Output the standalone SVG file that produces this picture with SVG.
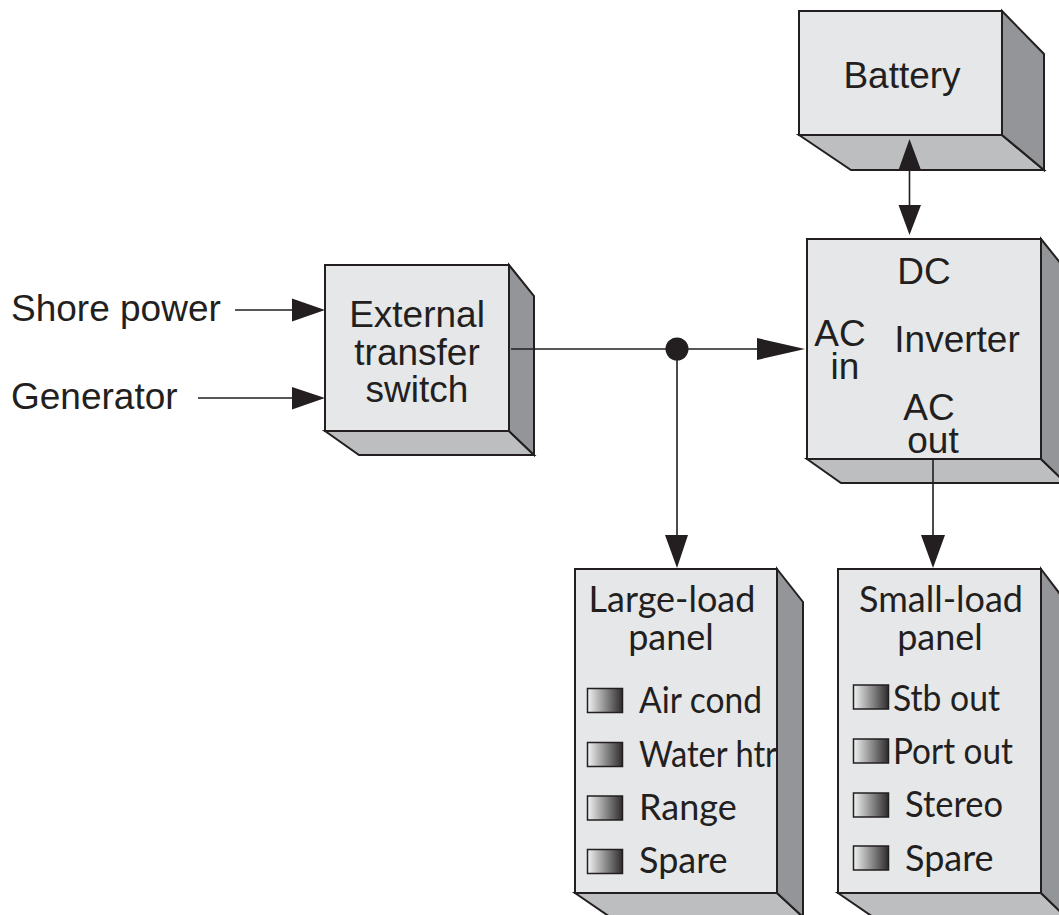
<svg xmlns="http://www.w3.org/2000/svg" width="1059" height="915" viewBox="0 0 1059 915">
<style>
.front{fill:#e6e7e8;stroke:#231f20;stroke-width:2;stroke-linejoin:miter}
.right{fill:#939598;stroke:#231f20;stroke-width:2}
.bottom{fill:#bcbec0;stroke:#231f20;stroke-width:2}
.h{font-family:"Liberation Sans",Arial,sans-serif;font-size:37px;fill:#231f20}
.m{font-family:Lato,"Open Sans",sans-serif;font-size:36px;fill:#231f20}
.sw{fill:url(#g);stroke:#231f20;stroke-width:1.5}
.line{fill:none;stroke:#231f20;stroke-width:1.6}
.head{fill:#231f20}
</style>
<defs>
<linearGradient id="g" x1="0" y1="0" x2="1" y2="0"><stop offset="0" stop-color="#f1f2f2"/><stop offset="1" stop-color="#2e2c2d"/></linearGradient>
</defs>
<g id="battery">
<path class="bottom" d="M799 135L851 170H1044L1002 135Z"/>
<path class="right" d="M1002 11L1044 54V170L1002 135Z"/>
<rect class="front" x="799" y="11" width="203" height="124"/>
<text class="h" x="902" y="88" text-anchor="middle">Battery</text>
</g>
<g id="switch">
<path class="bottom" d="M325 431L359 455H534L509 431Z"/>
<path class="right" d="M509 265L534 296V455L509 431Z"/>
<rect class="front" x="325" y="265" width="184" height="166"/>
<text class="h" x="417" y="327" text-anchor="middle">External</text>
<text class="h" x="417" y="365" text-anchor="middle">transfer</text>
<text class="h" x="417" y="402" text-anchor="middle">switch</text>
</g>
<g id="inverter">
<path class="bottom" d="M807 459L841 483H1066L1041 459Z"/>
<path class="right" d="M1041 239L1066 270V483L1041 459Z"/>
<rect class="front" x="807" y="239" width="234" height="220"/>
<text class="h" x="924" y="284" text-anchor="middle">DC</text>
<text class="h" x="840" y="346" text-anchor="middle">AC</text>
<text class="h" x="845" y="379" text-anchor="middle">in</text>
<text class="h" x="957" y="352" text-anchor="middle">Inverter</text>
<text class="h" x="929" y="420" text-anchor="middle">AC</text>
<text class="h" x="933" y="453" text-anchor="middle">out</text>
</g>
<g id="large-panel">
<path class="bottom" d="M575 893L610 917H803L777 893Z"/>
<path class="right" d="M777 569L803 602V917L777 893Z"/>
<rect class="front" x="575" y="569" width="202" height="324"/>
<text class="m" x="672" y="612" text-anchor="middle">Large-load</text>
<text class="m" x="671" y="650" text-anchor="middle">panel</text>
<rect class="sw" x="587.500" y="688.500" width="35" height="24"/>
<rect class="sw" x="587.500" y="742.500" width="35" height="24"/>
<rect class="sw" x="587.500" y="796" width="35" height="24"/>
<rect class="sw" x="587.500" y="849.500" width="35" height="24"/>
<text class="m" x="639" y="713" textLength="123" lengthAdjust="spacingAndGlyphs">Air cond</text>
<text class="m" x="639" y="767" textLength="138" lengthAdjust="spacingAndGlyphs">Water htr</text>
<text class="m" x="639" y="820">Range</text>
<text class="m" x="639" y="873">Spare</text>
</g>
<g id="small-panel">
<path class="bottom" d="M838 893L873 917H1066L1041 893Z"/>
<path class="right" d="M1041 569L1066 602V917L1041 893Z"/>
<rect class="front" x="838" y="569" width="203" height="324"/>
<text class="m" x="941" y="612" text-anchor="middle">Small-load</text>
<text class="m" x="940" y="650" text-anchor="middle">panel</text>
<rect class="sw" x="853.500" y="685" width="35" height="24"/>
<rect class="sw" x="853.500" y="739" width="35" height="24"/>
<rect class="sw" x="853.500" y="793" width="35" height="24"/>
<rect class="sw" x="853.500" y="846" width="35" height="24"/>
<text class="m" x="893" y="711" textLength="107" lengthAdjust="spacingAndGlyphs">Stb out</text>
<text class="m" x="893" y="764" textLength="120" lengthAdjust="spacingAndGlyphs">Port out</text>
<text class="m" x="905" y="817" textLength="98" lengthAdjust="spacingAndGlyphs">Stereo</text>
<text class="m" x="905" y="871">Spare</text>
</g>
<g id="sources">
<text class="h" x="11" y="321">Shore power</text>
<text class="h" x="11" y="409">Generator</text>
</g>
<g id="connectors">
<path class="line" d="M235 310H295M198 398H295M511 349H765M677 349V540M933 459V540M909.500 170V210"/>
<circle cx="677" cy="349" r="11.500" fill="#231f20"/>
<path class="head" d="M292 298.500L325 310L292 321.500ZM292 387L325 398L292 409.500Z"/>
<path class="head" d="M757 338L805 349L757 360Z"/>
<path class="head" d="M665 535H688L677 568ZM921 535H945L933 568Z"/>
<path class="head" d="M909.500 139L921 170H898.500ZM898.500 205H921L909.500 235Z"/>
</g>
</svg>
